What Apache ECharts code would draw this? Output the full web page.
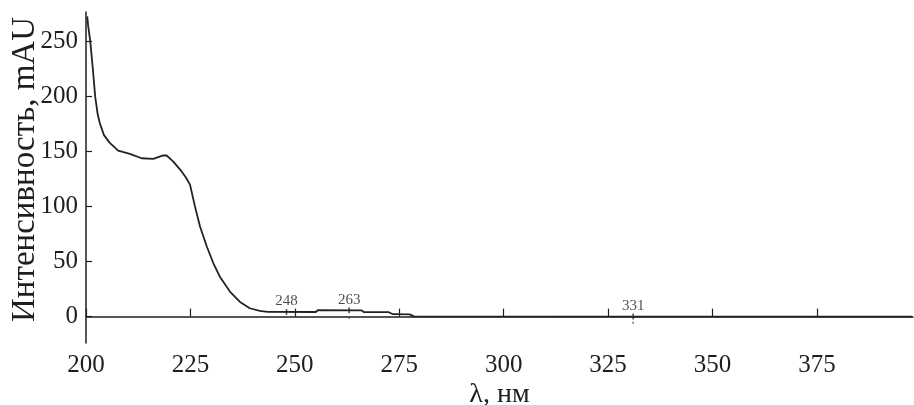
<!DOCTYPE html>
<html>
<head>
<meta charset="utf-8">
<title>UV spectrum</title>
<script src="https://cdn.jsdelivr.net/npm/echarts@6/dist/echarts.min.js"></script>
<style>
    html, body { margin: 0; padding: 0; background: #fff; }
    #chart { width: 914px; height: 405px; }
</style>
</head>
<body>
<div id="chart"></div>
<script type="text/javascript">
    // spectrum: wavelength (nm) and intensity (mAU)
    var wavelength = [200.3, 200.5, 201.0, 201.6, 202.2, 202.8, 203.3, 204.3, 205.7, 207.7,
        210.5, 213.3, 216.1, 218.5, 219.3, 220.9, 222.9, 224.0, 224.9, 226.1,
        227.3, 228.9, 230.5, 232.1, 234.4, 236.8, 239.2, 241.6, 243.5, 255.0,
        255.5, 266.0, 266.5, 272.5, 273.5, 277.5, 278.5, 397.8];
    var intensity = [273, 265, 251, 227, 200, 184, 176, 165, 158, 151,
        148, 144, 143.4, 146.7, 146.5, 141, 132, 126, 120, 100,
        82, 64, 48.5, 36, 23, 13.6, 7.6, 5.2, 4.3, 4.2,
        5.8, 5.6, 4.2, 4.0, 2.2, 2.0, 0.2, 0];

    // peak marks
    var peakNm = [248, 263, 331];
    var peakVal = [4.2, 5.8, 0];
    var dotNm = [263, 331];
    var dotVal = [-1, -5.5];

    var xTicks = [200, 225, 250, 275, 300, 325, 350, 375];
    var yTicks = [0, 50, 100, 150, 200, 250];

    var font = 'Liberation Serif';
    var ink = '#1e1e1e';

    var myChart = echarts.init(document.getElementById('chart'));
    option = {
        animation: false,
        grid: { left: 86, right: 1, top: 12, bottom: 62, outerBoundsMode: 'none', containLabel: false },
        xAxis: {
            type: 'value',
            min: 200,
            max: 398,
            name: 'λ, нм',
            nameLocation: 'middle',
            nameGap: 38,
            nameMoveOverlap: false,
            nameTextStyle: { fontFamily: font, fontSize: 28, color: ink },
            axisLine: { lineStyle: { color: ink, width: 1.5 } },
            axisTick: { inside: true, length: 8, customValues: xTicks, lineStyle: { color: ink, width: 1.2 } },
            axisLabel: { customValues: xTicks, margin: 10, fontFamily: font, fontSize: 25, color: ink },
            splitLine: { show: false }
        },
        yAxis: {
            type: 'value',
            min: -24,
            max: 277,
            name: 'Интенсивность, mAU',
            nameLocation: 'middle',
            nameGap: 44,
            nameMoveOverlap: false,
            nameTextStyle: { fontFamily: font, fontSize: 33, color: ink, padding: [0, 0, 0, 16] },
            axisLine: { show: true, lineStyle: { color: ink, width: 1.5 } },
            axisTick: { show: true, inside: true, length: 6, customValues: yTicks, lineStyle: { color: ink, width: 1.2 } },
            axisLabel: { customValues: yTicks, margin: 8, fontFamily: font, fontSize: 25, color: ink },
            splitLine: { show: false }
        },
        series: [
            {
                type: 'line',
                data: wavelength.map(function (x, i) { return [x, intensity[i]]; }),
                showSymbol: false,
                lineStyle: { color: '#222', width: 1.8 },
                z: 2
            },
            {
                type: 'scatter',
                data: peakNm.map(function (x, i) { return [x, peakVal[i]]; }),
                symbol: 'rect',
                symbolSize: [1.5, 6],
                itemStyle: { color: '#222' },
                label: {
                    show: true,
                    position: 'top',
                    distance: 0,
                    formatter: function (p) { return p.value[0]; },
                    fontFamily: font,
                    fontSize: 15,
                    color: ink
                },
                z: 3
            },
            {
                type: 'scatter',
                data: dotNm.map(function (x, i) { return [x, dotVal[i]]; }),
                symbol: 'rect',
                symbolSize: [1.5, 2],
                itemStyle: { color: '#444' },
                z: 3
            }
        ]
    };
    myChart.setOption(option);
</script>
</body>
</html>
